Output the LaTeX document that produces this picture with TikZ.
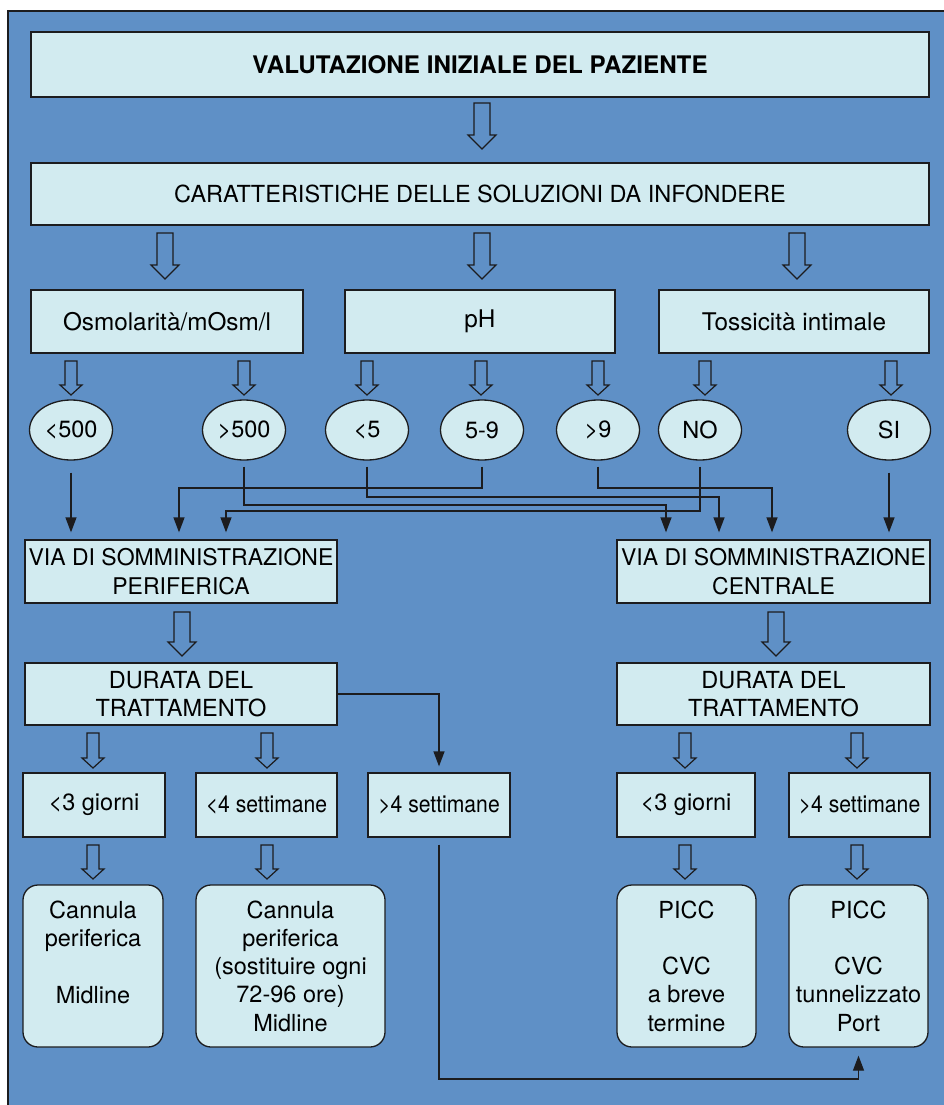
\documentclass[tikz,border=0pt]{standalone}
\usepackage{fontspec}
\usepackage{graphicx}
\setmainfont{TeX Gyre Heros}
\usetikzlibrary{arrows.meta,shapes.geometric,calc}
\definecolor{bgblue}{RGB}{95,144,198}
\definecolor{boxfill}{RGB}{210,235,240}
\definecolor{edge}{RGB}{28,28,30}
\newcommand\hollowarr[6]{\draw[harrow] (#1-#4,#2) -- (#1+#4,#2) -- (#1+#4,#3-#6) -- (#1+#5,#3-#6) -- (#1,#3) -- (#1-#5,#3-#6) -- (#1-#4,#3-#6) -- cycle;}
\newcommand\bigarr[3]{\hollowarr{#1}{#2}{#3}{8}{14}{14}}
\newcommand\smallarr[3]{\hollowarr{#1}{#2}{#3}{6}{11}{10}}
\newcommand\narrowtxt[1]{\scalebox{0.9}[1]{#1}}
\begin{document}
\begin{tikzpicture}[x=1pt,y=-1pt,
  mybox/.style={draw=edge, fill=boxfill, line width=1.3pt, rectangle, inner sep=0pt,
    align=center, font=\fontsize{23.5}{28.3}\selectfont},
  roundbox/.style={mybox, rounded corners=15pt, minimum height=162pt},
  oval/.style={draw=edge, fill=boxfill, line width=1.3pt, ellipse, inner sep=0pt,
    minimum width=83pt, minimum height=60pt, font=\fontsize{23.5}{28.3}\selectfont},
  harrow/.style={draw=edge, line width=1.2pt, line join=miter},
  conn/.style={draw=edge, line width=1.3pt, -{Triangle[width=11pt,length=15pt]}, shorten >=7pt}]
\useasboundingbox (0,0) rectangle (944,1105);
\draw[fill=bgblue, draw=edge, line width=1.5pt] (8,11) rectangle (975,1135);
\draw[edge, line width=2.5pt] (8,11) -- (8,1105);

% row 1-2
\node[mybox, minimum width=898pt, minimum height=65pt, font=\fontsize{24.2}{28.3}\selectfont\bfseries] (b1) at (480,64.5) {VALUTAZIONE INIZIALE DEL PAZIENTE};
\node[mybox, minimum width=898pt, minimum height=62pt] (b2) at (480,194) {CARATTERISTICHE DELLE SOLUZIONI DA INFONDERE};
% row 3
\node[mybox, minimum width=272pt, minimum height=63pt, font=\fontsize{24.3}{28.3}\selectfont] (osm) at (167,321.5) {Osmolarità/mOsm/l};
\node[mybox, minimum width=270pt, minimum height=63pt, font=\fontsize{24.3}{28.3}\selectfont] (ph) at (480,321.5) {pH};
\node[mybox, minimum width=270pt, minimum height=63pt, font=\fontsize{24.3}{28.3}\selectfont] (tox) at (794,321.5) {Tossicità intimale};
% ovals
\node[oval] (lt500) at (71,430) {<500};
\node[oval] (gt500) at (244,430) {>500};
\node[oval] (lt5) at (367,430) {<5};
\node[oval] (r59) at (482,430) {5-9};
\node[oval] (gt9) at (598,430) {>9};
\node[oval] (no) at (700,430) {NO};
\node[oval] (si) at (889,430) {SI};
% via
\node[mybox, minimum width=312pt, minimum height=63pt, font=\fontsize{23}{28.3}\selectfont] (viaL) at (181,571.5) {VIA DI SOMMINISTRAZIONE\\PERIFERICA};
\node[mybox, minimum width=313pt, minimum height=63pt, font=\fontsize{23}{28.3}\selectfont] (viaR) at (773.5,571.5) {VIA DI SOMMINISTRAZIONE\\CENTRALE};
% durata
\node[mybox, minimum width=312pt, minimum height=62pt] (durL) at (181,694) {DURATA DEL\\TRATTAMENTO};
\node[mybox, minimum width=313pt, minimum height=62pt] (durR) at (773.5,694) {DURATA DEL\\TRATTAMENTO};
% time boxes
\node[mybox, minimum width=142pt, minimum height=64pt] (r1) at (94,805) {<3 giorni};
\node[mybox, minimum width=141pt, minimum height=64pt] (r2) at (266.5,805) {\narrowtxt{<4 settimane}};
\node[mybox, minimum width=142pt, minimum height=64pt] (r3) at (439,805) {\narrowtxt{>4 settimane}};
\node[mybox, minimum width=138pt, minimum height=64pt] (r4) at (686,805) {<3 giorni};
\node[mybox, minimum width=141pt, minimum height=64pt] (r5) at (859.5,805) {\narrowtxt{>4 settimane}};
% devices
\node[roundbox, minimum width=140pt] (c1) at (93,966) {Cannula\\periferica\\\mbox{}\\Midline\\\mbox{}};
\node[roundbox, minimum width=189pt] (c2) at (290.5,966) {Cannula\\periferica\\(sostituire ogni\\72-96 ore)\\Midline};
\node[roundbox, minimum width=139pt] (c3) at (686.5,966) {PICC\\\mbox{}\\CVC\\a breve\\termine};
\node[roundbox, minimum width=139pt] (c4) at (858.5,966) {PICC\\\mbox{}\\CVC\\tunnelizzato\\Port};

% hollow arrows
\bigarr{482}{103}{149}
\bigarr{165}{233}{279}
\bigarr{482}{233}{279}
\bigarr{797}{233}{279}
\smallarr{71}{361}{395}
\smallarr{244}{361}{395}
\smallarr{367}{361}{395}
\smallarr{481}{361}{395}
\smallarr{598}{361}{395}
\smallarr{705}{361}{395}
\smallarr{891}{361}{395}
\bigarr{182}{612}{656}
\bigarr{776}{612}{656}
\smallarr{93}{733}{768}
\smallarr{267}{733}{768}
\smallarr{685}{733}{768}
\smallarr{857}{733}{768}
\smallarr{93}{845}{879}
\smallarr{267}{845}{879}
\smallarr{685}{845}{879}
\smallarr{857}{845}{879}

% connectors
\coordinate (j1) at (666,505);
\coordinate (j2) at (719,497);
\coordinate (j3) at (179,488);
\coordinate (j4) at (772,488);
\coordinate (j5) at (226,511);
\coordinate (j9) at (439,1079);
\draw[conn, shorten <=12pt] (lt500.south) -- (lt500.south |- viaL.north);
\draw[conn, shorten <=6pt] (gt500.south) |- (j1) -- (j1 |- viaR.north);
\draw[conn, shorten <=6pt] (lt5.south) |- (j2) -- (j2 |- viaR.north);
\draw[conn, shorten <=6pt] (r59.south) |- (j3) -- (j3 |- viaL.north);
\draw[conn, shorten <=6pt] (gt9.south) |- (j4) -- (j4 |- viaR.north);
\draw[conn, shorten <=6pt] (no.south) |- (j5) -- (j5 |- viaL.north);
\draw[conn, shorten <=12pt] (si.south) -- (si.south |- viaR.north);
\draw[conn, shorten >=6pt] (durL.east) -| (r3.north);
\draw[conn, shorten <=7pt, shorten >=8pt] (r3.south) |- (j9 -| c4.south) -- (c4.south);
\end{tikzpicture}
\end{document}
